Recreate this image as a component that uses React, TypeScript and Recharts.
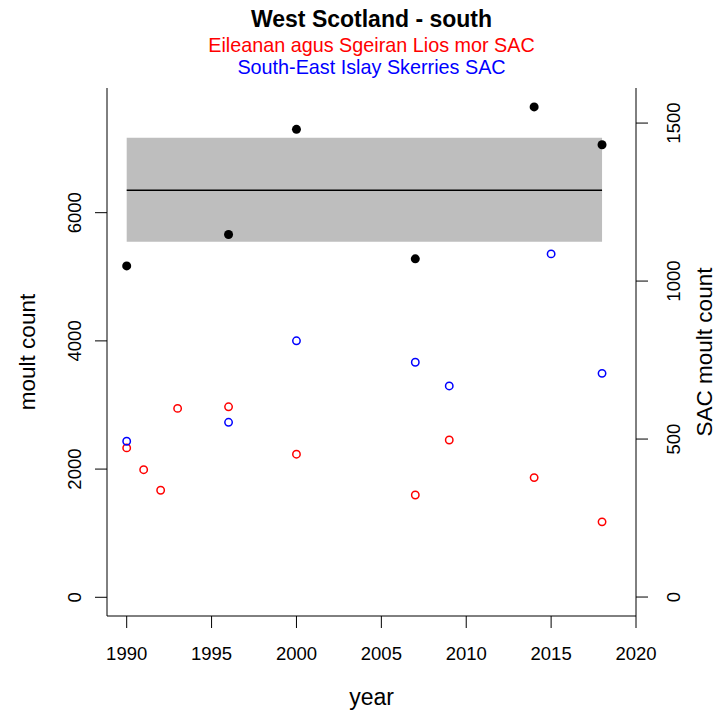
import { ComposedChart, Scatter, XAxis, YAxis, ReferenceArea, ReferenceLine } from "recharts";

// total counts (left axis)
const regionYears = [1990, 1996, 2000, 2007, 2014, 2018];
const regionCounts = [5170, 5660, 7300, 5280, 7650, 7060];

// Eileanan agus Sgeiran Lios mor SAC (right axis)
const liosmorYears = [1990, 1991, 1992, 1993, 1996, 2000, 2007, 2009, 2014, 2018];
const liosmorCounts = [472, 403, 338, 597, 602, 452, 323, 497, 378, 238];

// South-East Islay Skerries SAC (right axis)
const islayYears = [1990, 1996, 2000, 2007, 2009, 2015, 2018];
const islayCounts = [493, 553, 811, 743, 668, 1086, 708];

// mean and band for the total counts
const bandYears = [1990, 2018];
const bandMean = 6350;
const bandLower = 5545;
const bandUpper = 7170;

const yearTicks = [1990, 1995, 2000, 2005, 2010, 2015, 2020];
const countTicks = [0, 2000, 4000, 6000];
const sacTicks = [0, 500, 1000, 1500];

const FONT = "'Liberation Sans', Arial, sans-serif";

const toPoints = (years: number[], counts: number[]) =>
  years.map((year, i) => ({ year, count: counts[i] }));

const regionData = toPoints(regionYears, regionCounts);
const liosmorData = toPoints(liosmorYears, liosmorCounts);
const islayData = toPoints(islayYears, islayCounts);

const filledDot = (p: any) => <circle cx={p.cx} cy={p.cy} r={4.5} fill="#000" />;
const openDot = (color: string) => (p: any) =>
  <circle cx={p.cx} cy={p.cy} r={3.7} fill="none" stroke={color} strokeWidth={1.5} />;

const XTick = (p: any) => (
  <text x={p.x} y={p.y + 25} textAnchor="middle" dominantBaseline="central"
    fontFamily={FONT} fontSize={18.5} fill="#000">
    {p.payload.value}
  </text>
);

const LeftTick = (p: any) => {
  const x = p.x - 20;
  return (
    <text x={x} y={p.y} transform={`rotate(-90, ${x}, ${p.y})`} textAnchor="middle"
      dominantBaseline="central" fontFamily={FONT} fontSize={18.5} fill="#000">
      {p.payload.value}
    </text>
  );
};

const RightTick = (p: any) => {
  const x = p.x + 26;
  return (
    <text x={x} y={p.y} transform={`rotate(-90, ${x}, ${p.y})`} textAnchor="middle"
      dominantBaseline="central" fontFamily={FONT} fontSize={18.5} fill="#000">
      {p.payload.value}
    </text>
  );
};

const axisTitle = (text: string, dx: number) => (props: any) => {
  const vb = props.viewBox;
  const x = vb.x + dx;
  const y = vb.y + vb.height / 2;
  return (
    <text x={x} y={y} transform={`rotate(-90, ${x}, ${y})`} textAnchor="middle"
      dominantBaseline="central" fontFamily={FONT} fontSize={22.5} fill="#000">
      {text}
    </text>
  );
};

const yearTitle = (props: any) => {
  const vb = props.viewBox;
  return (
    <text x={vb.x + vb.width / 2} y={vb.y + 81} textAnchor="middle" dominantBaseline="central"
      fontFamily={FONT} fontSize={23} fill="#000">
      year
    </text>
  );
};

const titleLine = (text: string, center: number, size: number, color: string, bold = false) => (
  <div style={{
    position: "absolute", left: 0, width: 743, top: center - 14, height: 28, lineHeight: "28px",
    textAlign: "center", fontFamily: FONT, fontSize: size, color, fontWeight: bold ? "bold" : "normal",
  }}>
    {text}
  </div>
);

export default function App() {
  return (
    <div style={{ position: "absolute", left: 0, top: 0, width: 718, height: 713, background: "#fff" }}>
      {titleLine("West Scotland - south", 19, 23, "#000", true)}
      {titleLine("Eileanan agus Sgeiran Lios mor SAC", 45, 19.8, "#ff0000")}
      {titleLine("South-East Islay Skerries SAC", 67, 19.8, "#0000ff")}
      <ComposedChart width={718} height={713} margin={{ top: 88, right: 0, bottom: 0, left: 0 }}
        style={{ position: "absolute", left: 0, top: 0 }}>
        <XAxis dataKey="year" type="number" domain={[1988.84, 2020]} ticks={yearTicks}
          allowDataOverflow height={97} tickSize={12} tickMargin={0}
          axisLine={{ stroke: "#000" }} tickLine={{ stroke: "#000" }} tick={XTick}
          label={{ content: yearTitle }} />
        <YAxis yAxisId="left" orientation="left" dataKey="count" type="number"
          domain={[-292, 7945]} ticks={countTicks} allowDataOverflow width={107}
          tickSize={12} tickMargin={0} axisLine={{ stroke: "#000" }} tickLine={{ stroke: "#000" }}
          tick={LeftTick} label={{ content: axisTitle("moult count", 27) }} />
        <YAxis yAxisId="right" orientation="right" dataKey="count" type="number"
          domain={[-60, 1611]} ticks={sacTicks} allowDataOverflow width={82}
          tickSize={12} tickMargin={0} axisLine={{ stroke: "#000" }} tickLine={{ stroke: "#000" }}
          tick={RightTick} label={{ content: axisTitle("SAC moult count", 68) }} />
        <ReferenceArea yAxisId="left" x1={bandYears[0]} x2={bandYears[1]} y1={bandLower} y2={bandUpper}
          fill="#bebebe" fillOpacity={1} stroke="none" />
        <ReferenceLine yAxisId="left" segment={[{ x: bandYears[0], y: bandMean }, { x: bandYears[1], y: bandMean }]}
          stroke="#000" strokeWidth={1.3} />
        <Scatter yAxisId="left" data={regionData} dataKey="count" shape={filledDot} isAnimationActive={false} />
        <Scatter yAxisId="right" data={liosmorData} dataKey="count" shape={openDot("#ff0000")} isAnimationActive={false} />
        <Scatter yAxisId="right" data={islayData} dataKey="count" shape={openDot("#0000ff")} isAnimationActive={false} />
        <ReferenceArea yAxisId="left" fill="none" stroke="#000" strokeWidth={1.3} />
      </ComposedChart>
    </div>
  );
}
